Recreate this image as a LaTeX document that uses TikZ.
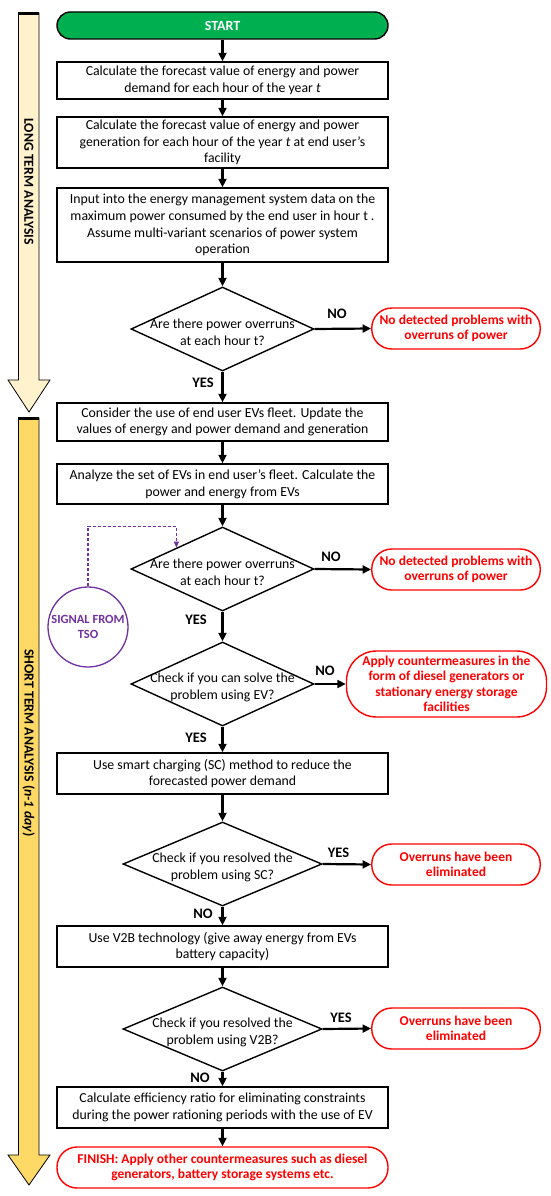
\documentclass[tikz,border=0pt]{standalone}
\usepackage{fontspec}
\setmainfont{Carlito}
\usetikzlibrary{shapes.geometric,arrows.meta,calc}
\definecolor{startgreen}{HTML}{00B050}
\definecolor{longterm}{HTML}{FFF2CC}
\definecolor{shortterm}{HTML}{FFD966}
\definecolor{tsopurple}{HTML}{7030A0}
\definecolor{alertred}{HTML}{FF0000}

\tikzset{
  txt/.style={font=\fontsize{13.8}{16.7}\selectfont},
  process/.style={rectangle, draw, line width=1.4pt, minimum width=331pt, inner sep=1pt, align=center, txt},
  decision/.style={diamond, draw, line width=1.4pt, minimum width=183pt, minimum height=84pt, inner sep=0pt, aspect=2.18},
  question/.style={align=center, inner sep=0pt, txt},
  result/.style={rectangle, rounded corners=20pt, draw=alertred, text=alertred, line width=1.4pt, minimum width=168.5pt, minimum height=41pt, inner sep=1pt, align=center, font=\bfseries\fontsize{13.5}{15.5}\selectfont},
  answer/.style={font=\bfseries\fontsize{14.5}{16}\selectfont, inner sep=0pt},
  phase/.style={font=\bfseries\fontsize{13.8}{16}\selectfont, rotate=-90, inner sep=0pt},
  flow/.style={line width=2.2pt, -{Triangle[length=8.5pt,width=8pt]}},
}

\begin{document}
\begin{tikzpicture}[x=1pt,y=-1pt]
        \useasboundingbox (0,0) rectangle (550,1196);

        \draw[fill=longterm, line width=0.8pt] (18.5,13) -- (39,13) -- (39,380) -- (50,380) -- (29,412) -- (8,380) -- (18.5,380) -- cycle;
        \draw[line width=3.5pt] (18.1,13.5) -- (39.4,13.5);
        \node (longlbl) at (28.75,181.5) [phase] {LONG TERM ANALYSIS};

        \draw[fill=shortterm, line width=0.8pt] (18.5,418) -- (39,418) -- (39,1155) -- (50,1155) -- (29,1185) -- (8,1155) -- (18.5,1155) -- cycle;
        \draw[line width=3.5pt] (18.1,418.5) -- (39.4,418.5);
        \node (shortlbl) at (28.75,743) [phase] {SHORT TERM ANALYSIS (\textit{n-1 day})};

        \node (start) at (222.5,25.5) [rectangle, rounded corners=13.5pt, draw, fill=startgreen, line width=1.4pt, minimum width=331pt, minimum height=27pt, text=white, font=\bfseries\fontsize{14}{16}\selectfont] {START};
        \node (b1) at (222.5,80.5) [process, minimum height=37pt] {Calculate the forecast value of energy and power\\demand for each hour of the year \textit{t}};
        \node (b2) at (222.5,142.5) [process, minimum height=51pt] {Calculate the forecast value of energy and power\\generation for each hour of the year \textit{t} at end user’s\\facility};
        \node (b3) at (222.5,225) [process, minimum height=74pt] {Input into the energy management system data on the\\maximum power consumed by the end user in hour t .\\Assume multi-variant scenarios of power system\\operation};
        \node (d1) at (222.5,329) [decision] {};
        \node (d1q) at ($(d1)+(0,3.5)$) [question] {Are there power overruns\\at each hour t?};
        \node (t1) at (456,328.5) [result] {No detected problems with\\overruns of power};

        \node (b4) at (222.5,422) [process, minimum height=38pt] {Consider the use of end user EVs fleet. Update the\\values of energy and power demand and generation};
        \node (b5) at (222.5,484) [process, minimum height=40pt] {Analyze the set of EVs in end user’s fleet. Calculate the\\power and energy from EVs};
        \node (d2) at (222.5,569) [decision] {};
        \node (d2q) at ($(d2)+(0,3.5)$) [question] {Are there power overruns\\at each hour t?};
        \node (t2) at (456,569.5) [result] {No detected problems with\\overruns of power};
        \node (sig) at (88,627) [circle, draw=tsopurple, line width=1.3pt, minimum size=80pt, inner sep=0pt, align=center, text=tsopurple, font=\bfseries\fontsize{12.5}{15}\selectfont] {SIGNAL FROM\\TSO};

        \node (d3) at (222.5,684) [decision] {};
        \node (d3q) at ($(d3)+(0,3.5)$) [question] {Check if you can solve the\\problem using EV?};
        \node (t3) at (446.5,684) [result, minimum width=200pt, minimum height=66pt, rounded corners=30pt] {Apply countermeasures in the\\form of diesel generators or\\stationary energy storage\\facilities};
        \node (b6) at (222.5,773.5) [process, minimum height=41pt] {Use smart charging (SC) method to reduce the\\forecasted power demand};
        \node (d4) at (222.5,864) [decision, minimum width=199pt, aspect=2.37] {};
        \node (d4q) at ($(d4)+(0,3.5)$) [question] {Check if you resolved the\\problem using SC?};
        \node (t4) at (456,864.5) [result] {Overruns have been\\eliminated};
        \node (b7) at (222.5,946.5) [process, minimum height=41pt] {Use V2B technology (give away energy from EVs\\battery capacity)};
        \node (d5) at (222.5,1029) [decision, minimum width=199pt, aspect=2.37] {};
        \node (d5q) at ($(d5)+(0,3.5)$) [question] {Check if you resolved the\\problem using V2B?};
        \node (t5) at (456,1028.5) [result] {Overruns have been\\eliminated};
        \node (b8) at (222.5,1107.5) [process, minimum height=41pt] {Calculate efficiency ratio for eliminating constraints\\during the power rationing periods with the use of EV};
        \node (finish) at (222.5,1167.5) [result, minimum width=331pt] {FINISH: Apply other countermeasures such as diesel\\generators, battery storage systems etc.};

        \node (no1) at (337,314) [answer] {NO};
        \node (yes1) at (203,383) [answer] {YES};
        \node (no2) at (331,557) [answer] {NO};
        \node (yes2) at (196,619.5) [answer] {YES};
        \node (no3) at (325,671) [answer] {NO};
        \node (yes3) at (196,738) [answer] {YES};
        \node (yes4) at (338.5,853) [answer] {YES};
        \node (no4) at (203,913.5) [answer] {NO};
        \node (yes5) at (341,1018) [answer] {YES};
        \node (no5) at (200,1078) [answer] {NO};

        \draw[flow] (start) -- (b1);
        \draw[flow] (b1) -- (b2);
        \draw[flow] (b2) -- (b3);
        \draw[flow] (b3) -- (d1.north);
        \draw[flow] (d1.east) -- (t1.west);
        \draw[flow] (d1.south) -- (b4);
        \draw[flow] (b4) -- (b5);
        \draw[flow] (b5) -- (d2.north);
        \draw[flow] (d2.east) -- (t2.west);
        \draw[flow] (d2.south) -- (d3.north);
        \draw[flow] (d3.east) -- (t3.west);
        \draw[flow] (d3.south) -- (b6);
        \draw[flow] (b6) -- (d4.north);
        \draw[flow] (d4.east) -- (t4.west);
        \draw[flow] (d4.south) -- (b7);
        \draw[flow] (b7) -- (d5.north);
        \draw[flow] (d5.east) -- (t5.west);
        \draw[flow] (d5.south) -- (b8);
        \draw[flow] (b8) -- (finish);

        \coordinate (tsoin) at ($(d2.north)!0.5!(d2.west)$);
        \draw[tsopurple, line width=1.1pt, densely dashed, -{Triangle[length=6pt,width=5pt]}] (sig.north) |- (d2.north -| tsoin) -- (tsoin);
        \end{tikzpicture}
\end{document}
